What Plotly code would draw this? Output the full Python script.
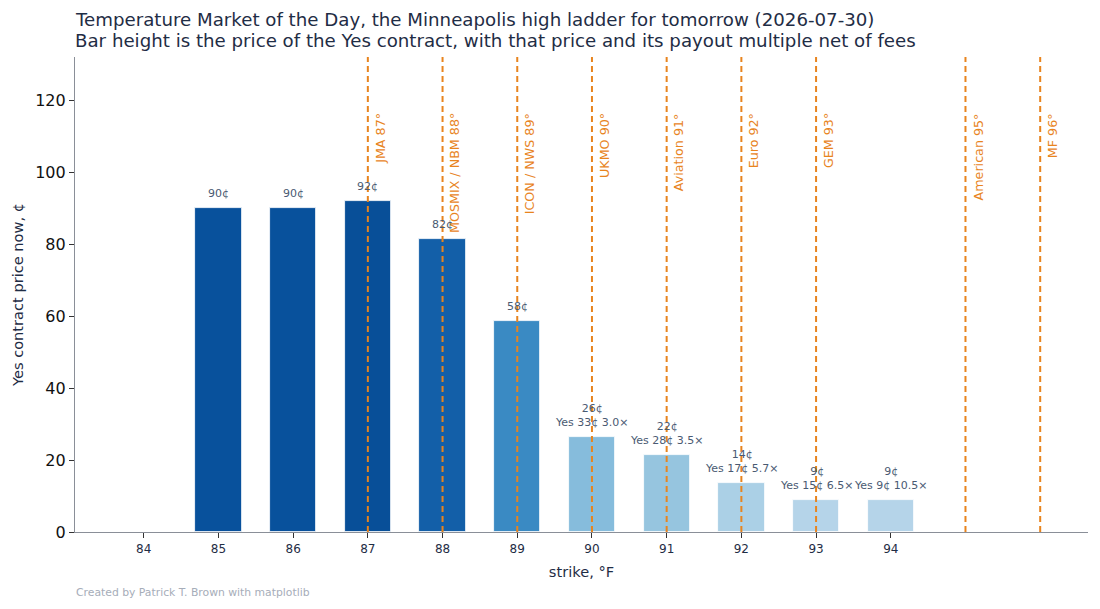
import plotly.graph_objects as go

# Strikes and Yes prices (cents)
strikes = [84, 85, 86, 87, 88, 89, 90, 91, 92, 93, 94]
prices = [0, 90, 90, 92, 81.5, 58.5, 26.5, 21.5, 13.5, 9, 9]
labels = ["", "90¢", "90¢", "92¢", "82¢", "58¢",
          "26¢<br>Yes 33¢ 3.0×", "22¢<br>Yes 28¢ 3.5×", "14¢<br>Yes 17¢ 5.7×",
          "9¢<br>Yes 15¢ 6.5×", "9¢<br>Yes 9¢ 10.5×"]
bar_colors = ["#08519c", "#08519c", "#08519c", "#084f98", "#135fa8", "#3a8ac3",
              "#86bcdc", "#96c5df", "#abd0e6", "#b5d4e9", "#b5d4e9"]

# Model forecasts (°F)
models = ["JMA", "MOSMIX / NBM", "ICON / NWS", "UKMO", "Aviation", "Euro", "GEM", "American", "MF"]
model_temps = [87, 88, 89, 90, 91, 92, 93, 95, 96]

title_lines = ["Temperature Market of the Day, the Minneapolis high ladder for tomorrow (2026-07-30)",
               "Bar height is the price of the Yes contract, with that price and its payout multiple net of fees"]

ORANGE = "#e8841e"
TEXT = "#1f2d45"
LABEL = "#4a5a72"
FONT = "DejaVu Sans"

fig = go.Figure()

fig.add_trace(go.Bar(
    x=strikes, y=prices, width=0.62,
    marker=dict(color=bar_colors, line=dict(color="white", width=0.8)),
    showlegend=False, hoverinfo="x+y"
))

# forecast lines
for name, t in zip(models, model_temps):
    fig.add_shape(type="line", xref="x", yref="paper", x0=t, x1=t, y0=0, y1=1,
                  line=dict(color=ORANGE, width=2, dash="6px,4px"))
    fig.add_annotation(x=t, y=117, xref="x", yref="y", text=f"{name} {t}°",
                       textangle=-90, showarrow=False, xanchor="left", yanchor="top",
                       xshift=3, font=dict(family=FONT, size=12.7, color=ORANGE))

# bar labels
for s, p, lab in zip(strikes, prices, labels):
    if lab:
        fig.add_annotation(x=s, y=p, text=lab, showarrow=False, yanchor="bottom",
                           yshift=6, font=dict(family=FONT, size=11, color=LABEL))

# title lines
for line, ty in zip(title_lines, [1.078, 1.034]):
    fig.add_annotation(xref="paper", yref="paper", x=-0.002, y=ty, xanchor="left", yanchor="middle",
                       showarrow=False, text=line, font=dict(family=FONT, size=18.2, color=TEXT))

fig.add_annotation(xref="paper", yref="paper", x=-0.001, y=-0.127, text="Created by Patrick T. Brown with matplotlib",
                   showarrow=False, xanchor="left", yanchor="middle",
                   font=dict(family=FONT, size=10.8, color="#a6adb9"))

# page body has an 8px margin, so the figure is shifted to compensate
fig.update_layout(
    width=1092, height=601,
    margin=dict(l=67, r=12, t=49, b=77),
    paper_bgcolor="white", plot_bgcolor="white",
    font=dict(family=FONT, color=TEXT),
    bargap=0,
)
fig.update_xaxes(range=[83.08, 96.64], tickvals=strikes, ticktext=[str(s) for s in strikes],
                 showgrid=False, zeroline=False, showline=True, linecolor="#8a8f98", linewidth=1.2,
                 ticks="outside", ticklen=5, tickcolor="#333", tickfont=dict(family=FONT, size=12, color=TEXT),
                 automargin=False,
                 title=dict(text="strike, °F", font=dict(family=FONT, size=14.6, color=TEXT), standoff=12))
fig.update_yaxes(range=[0, 132], tickvals=[0, 20, 40, 60, 80, 100, 120],
                 showgrid=False, zeroline=False, showline=True, linecolor="#8a8f98", linewidth=1.2,
                 ticks="outside", ticklen=5, tickcolor="#333", tickfont=dict(family=FONT, size=16, color="#111"),
                 automargin=False,
                 title=dict(text="Yes contract price now, ¢", font=dict(family=FONT, size=14.6, color=TEXT), standoff=8))

fig.write_html("out.html")
